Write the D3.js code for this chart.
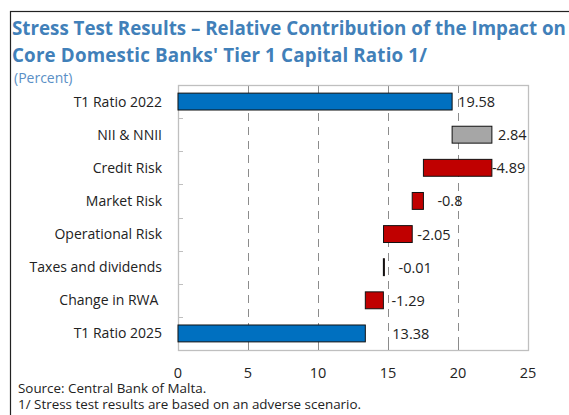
<!DOCTYPE html>
<html>
<head>
<meta charset="utf-8">
<script src="https://cdn.jsdelivr.net/npm/d3@7"></script>
<style>
  body { margin: 0; background: #fff; }
  svg { display: block; font-family: "Open Sans", "Noto Sans", sans-serif; }
</style>
</head>
<body>
<script>
// chart data
var categories = ["T1 Ratio 2022", "NII & NNII", "Credit Risk", "Market Risk",
    "Operational Risk", "Taxes and dividends", "Change in RWA\u00a0", "T1 Ratio 2025"];
var changes = [19.58, 2.84, -4.89, -0.8, -2.05, -0.01, -1.29, 13.38];
var kinds = ["total", "up", "down", "down", "down", "down", "down", "total"];
var labels = ["19.58", "2.84", "-4.89", "-0.8", "-2.05", "-0.01", "-1.29", "13.38"];
var xTicks = [0, 5, 10, 15, 20, 25];

function init() {
    var w = 569, h = 415;
    var plotLeft = 178, plotRight = 528, plotTop = 85, plotBottom = 350;

    var colors = { total: "#0070C0", up: "#A6A6A6", down: "#C00000" };
    // label gaps after the bar end, as placed in the original
    var labelGap = [6, 6, 0, 14, 5, 15, 8, 27];

    // running waterfall positions
    var rows = [];
    var level = 0;
    changes.forEach(function (v, i) {
        var start, end;
        if (kinds[i] === "total") { start = 0; end = v; level = v; }
        else { start = level; end = level + v; level = end; }
        rows.push({ cat: categories[i], start: start, end: end, kind: kinds[i], label: labels[i], gap: labelGap[i] });
    });

    var svg = d3.select("body").append("svg")
        .attr("width", w)
        .attr("height", h);

    // outer frame
    svg.append("rect")
        .attr("x", 10.5).attr("y", 11.5)
        .attr("width", 700).attr("height", 500)
        .attr("fill", "none").attr("stroke", "#222").attr("stroke-width", 1.2);

    // title
    var titleLines = ["Stress Test Results \u2013 Relative Contribution of the Impact on",
        "Core Domestic Banks' Tier 1 Capital Ratio 1/"];
    var t1 = svg.append("text")
        .attr("x", 12).attr("y", 35)
        .attr("font-size", 19).attr("font-weight", "bold")
        .attr("fill", "#4180B9")
        .text(titleLines[0]);
    // fit first line to the reference width
    var len = t1.node().getComputedTextLength();
    var fs = 19 * 554 / len;
    t1.attr("font-size", fs);
    svg.append("text")
        .attr("x", 12).attr("y", 62)
        .attr("font-size", fs).attr("font-weight", "bold")
        .attr("fill", "#4180B9")
        .attr("textLength", 415)
        .text(titleLines[1]);
    svg.append("text")
        .attr("x", 14).attr("y", 83)
        .attr("font-size", 14)
        .attr("fill", "#5A8FC6")
        .text("(Percent)");

    var x = d3.scaleLinear().domain([0, 25]).range([plotLeft, plotRight]);
    var band = d3.scaleBand().domain(categories).range([plotTop, plotBottom]);
    var y = d3.scaleBand().domain(categories).range([plotTop, plotBottom]).paddingInner(0.49).paddingOuter(0.245);

    // dashed grid lines
    svg.append("g").selectAll("line")
        .data(xTicks.slice(1, -1))
        .enter().append("line")
        .attr("x1", function (d) { return Math.round(x(d)) + 0.5; })
        .attr("x2", function (d) { return Math.round(x(d)) + 0.5; })
        .attr("y1", plotTop).attr("y2", plotBottom)
        .attr("stroke", "#8c8c8c").attr("stroke-dasharray", "8,6");

    // plot frame
    svg.append("rect")
        .attr("x", plotLeft + 0.5).attr("y", plotTop + 0.5)
        .attr("width", plotRight - plotLeft).attr("height", plotBottom - plotTop)
        .attr("fill", "none").attr("stroke", "#BFBFBF").attr("stroke-width", 1.3);

    // category ticks on the left
    svg.append("g").selectAll("line")
        .data(categories.slice(1))
        .enter().append("line")
        .attr("x1", plotLeft).attr("x2", plotLeft + 5)
        .attr("y1", function (d) { return Math.round(band(d)) + 0.5; })
        .attr("y2", function (d) { return Math.round(band(d)) + 0.5; })
        .attr("stroke", "#BFBFBF");

    // value ticks at the bottom
    svg.append("g").selectAll("line")
        .data(xTicks.slice(1, -1))
        .enter().append("line")
        .attr("x1", function (d) { return Math.round(x(d)) + 0.5; })
        .attr("x2", function (d) { return Math.round(x(d)) + 0.5; })
        .attr("y1", plotBottom - 6).attr("y2", plotBottom)
        .attr("stroke", "#8c8c8c");

    // x tick labels
    svg.append("g").selectAll("text")
        .data(xTicks)
        .enter().append("text")
        .attr("x", function (d) { return x(d); })
        .attr("y", 378)
        .attr("text-anchor", "middle")
        .attr("font-size", 14.5)
        .attr("fill", "#222")
        .text(function (d) { return d; });

    // category labels
    svg.append("g").selectAll("text")
        .data(categories)
        .enter().append("text")
        .attr("x", 162)
        .attr("y", function (d) { return band(d) + band.bandwidth() / 2 + 5; })
        .attr("text-anchor", "end")
        .attr("font-size", 14)
        .attr("fill", "#222")
        .text(function (d) { return d; });

    // bars
    svg.append("g").selectAll("rect")
        .data(rows)
        .enter().append("rect")
        .attr("x", function (d) { return x(Math.min(d.start, d.end)); })
        .attr("y", function (d) { return y(d.cat); })
        .attr("width", function (d) { return Math.max(1, Math.abs(x(d.end) - x(d.start))); })
        .attr("height", y.bandwidth())
        .attr("fill", function (d) { return colors[d.kind]; })
        .attr("stroke", "#111").attr("stroke-width", 1);

    // value labels
    svg.append("g").selectAll("text")
        .data(rows)
        .enter().append("text")
        .attr("x", function (d) { return x(Math.max(d.start, d.end)) + d.gap; })
        .attr("y", function (d) { return band(d.cat) + band.bandwidth() / 2 + 5.5; })
        .attr("font-size", 14.5)
        .attr("fill", "#222")
        .text(function (d) { return d.label; });

    // notes
    svg.append("text")
        .attr("x", 18).attr("y", 393)
        .attr("font-size", 13.4).attr("fill", "#222")
        .text("Source: Central Bank of Malta.");
    svg.append("text")
        .attr("x", 18).attr("y", 409)
        .attr("font-size", 13.4).attr("fill", "#222")
        .text("1/ Stress test results are based on an adverse scenario.");
}
window.onload = init;
</script>
</body>
</html>
